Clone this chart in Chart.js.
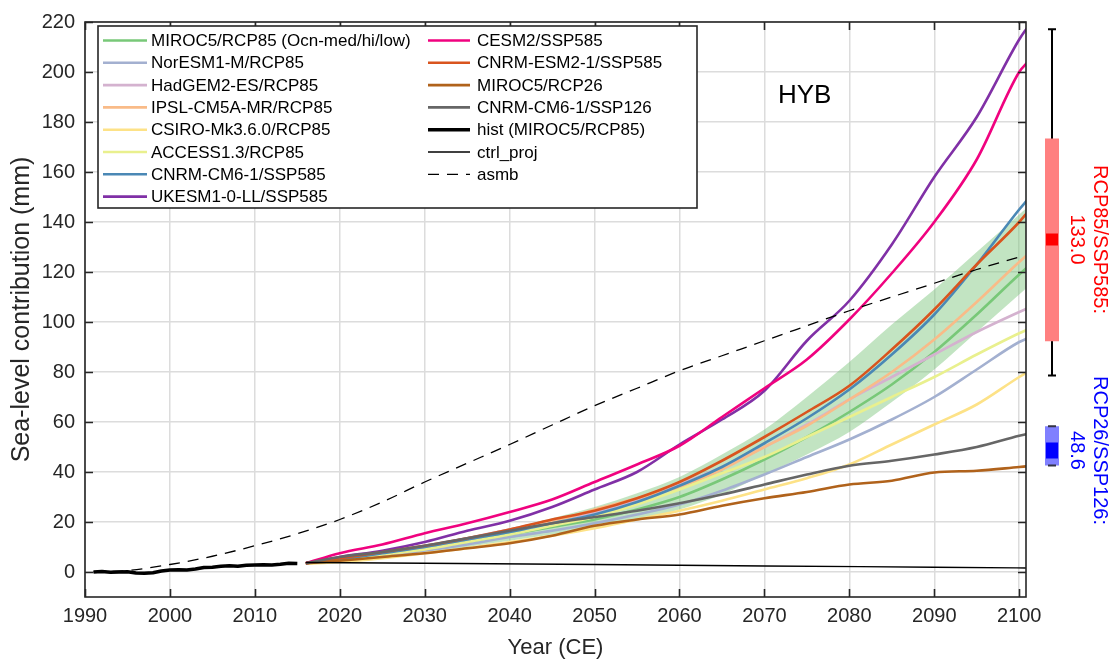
<!DOCTYPE html>
<html>
<head>
<meta charset="utf-8">
<script src="https://cdn.jsdelivr.net/npm/chart.js@4.4.1/dist/chart.umd.min.js"></script>
<style>
  html, body { margin: 0; padding: 0; background: #ffffff; }
  #wrap { width: 1119px; height: 664px; }
</style>
</head>
<body>
<div id="wrap"><canvas id="c" width="1119" height="664"></canvas></div>
<script>
// ---- axis ticks ----
const xTickValues = [1990, 2000, 2010, 2020, 2030, 2040, 2050, 2060, 2070, 2080, 2090, 2100];
const yTickValues = [0, 20, 40, 60, 80, 100, 120, 140, 160, 180, 200, 220];

// ---- historical period (MIROC5/RCP85), mm ----
const histYears = [1991, 1992, 1993, 1994, 1995, 1996, 1997, 1998, 1999, 2000, 2001, 2002, 2003,
                   2004, 2005, 2006, 2007, 2008, 2009, 2010, 2011, 2012, 2013, 2014, 2015];
const histValues = [0.0, 0.2, -0.1, 0.0, 0.1, -0.4, -0.5, -0.3, 0.4, 0.8, 0.9, 0.8, 1.2,
                    1.8, 1.9, 2.3, 2.5, 2.3, 2.7, 2.8, 2.9, 2.8, 3.1, 3.5, 3.4];

// ---- projections, mm ----
const projYears = [2016, 2020, 2025, 2030, 2035, 2040, 2045, 2050, 2055, 2060,
                   2065, 2070, 2075, 2080, 2085, 2090, 2095, 2100, 2101];
const miroc5Rcp85   = [3.5, 5.0, 7.0, 9.0, 12.0, 15.0, 18.0, 21.0, 25.0, 30.0, 37.0, 45.0, 54.0, 64.0, 75.0, 88.0, 103.0, 119.0, 122.0];
const miroc5Rcp85Hi = [3.6, 5.5, 8.0, 10.5, 14.0, 17.5, 21.5, 26.0, 31.5, 38.0, 47.0, 57.0, 70.0, 84.0, 99.0, 113.0, 128.0, 143.0, 146.0];
const miroc5Rcp85Lo = [3.4, 4.5, 6.0, 7.5, 10.0, 12.5, 15.0, 17.5, 21.0, 25.0, 31.0, 39.0, 47.0, 56.0, 68.0, 81.0, 96.0, 111.0, 114.0];
const norEsm1m      = [3.5, 5.0, 6.5, 8.5, 11.0, 14.0, 16.5, 19.5, 23.0, 27.0, 32.5, 39.0, 46.0, 53.0, 61.0, 70.0, 81.0, 92.0, 93.5];
const hadGem2es     = [3.5, 5.5, 7.5, 10.0, 13.5, 17.0, 20.5, 24.0, 29.0, 35.0, 42.0, 50.0, 59.0, 69.0, 78.0, 87.0, 96.0, 104.0, 105.5];
const ipslCm5aMr    = [3.6, 5.5, 7.5, 10.0, 13.0, 16.5, 20.0, 25.0, 29.5, 34.0, 41.0, 50.0, 58.5, 69.0, 80.0, 93.0, 108.0, 124.0, 127.0];
const csiroMk36     = [3.3, 4.0, 5.5, 7.5, 9.5, 12.0, 14.5, 17.5, 21.0, 24.5, 28.5, 33.0, 37.5, 43.0, 51.0, 59.0, 67.0, 78.0, 80.0];
const access13      = [3.5, 5.0, 7.0, 9.0, 12.0, 15.0, 18.5, 22.0, 27.0, 33.0, 39.5, 46.0, 54.0, 62.0, 70.0, 78.0, 87.0, 95.5, 97.0];
const cnrmCm61Ssp585 = [3.5, 5.0, 7.5, 10.0, 13.0, 16.0, 19.5, 23.0, 28.0, 34.5, 42.0, 51.5, 61.5, 73.0, 87.0, 103.0, 123.0, 145.0, 149.0];
const ukesm1Ssp585  = [3.5, 6.0, 8.5, 12.0, 16.5, 20.5, 26.0, 33.0, 40.0, 51.0, 61.0, 72.5, 92.5, 108.5, 131.0, 158.0, 182.0, 213.0, 218.0];
const cesm2Ssp585   = [3.5, 7.5, 11.0, 15.5, 19.5, 24.0, 29.0, 36.0, 43.0, 50.5, 62.0, 73.5, 85.0, 101.0, 119.5, 140.0, 165.0, 200.0, 204.0];
const cnrmEsm21Ssp585 = [3.5, 5.5, 8.0, 10.5, 13.5, 17.0, 21.0, 24.5, 29.5, 36.0, 44.5, 54.0, 64.0, 74.5, 89.0, 105.0, 123.0, 140.0, 144.0];
const miroc5Rcp26   = [3.5, 4.5, 6.0, 7.5, 9.5, 11.5, 14.5, 18.5, 21.0, 23.0, 26.5, 29.5, 32.0, 35.0, 36.5, 39.8, 40.5, 42.0, 42.3];
const cnrmCm61Ssp126 = [3.5, 6.0, 8.0, 10.5, 13.5, 16.5, 19.5, 22.0, 24.5, 27.5, 31.0, 35.0, 39.0, 42.5, 44.5, 47.0, 50.0, 54.5, 55.3];

// ---- control run and surface mass balance ----
const ctrlYears = [2016, 2030, 2050, 2070, 2090, 2101];
const ctrlValues = [3.8, 3.5, 3.0, 2.4, 1.9, 1.6];
const asmbYears = [1991, 1995, 2000, 2005, 2010, 2015, 2020, 2025, 2030, 2035, 2040, 2045, 2050,
                   2055, 2060, 2065, 2070, 2075, 2080, 2085, 2090, 2095, 2100];
const asmbValues = [0.0, 0.6, 3.0, 6.3, 10.5, 15.3, 21.0, 28.0, 36.0, 43.5, 51.0, 58.8, 66.5,
                    73.5, 80.5, 86.5, 92.5, 98.5, 104.5, 110.0, 115.5, 121.0, 126.0];

// ---- 2100 ensemble spread (box: whisker low, q1, median, q3, whisker high) ----
const boxNames = ['RCP85/SSP585:', 'RCP26/SSP126:'];
const boxWhiskerLow = [78.6, 42.6];
const boxQ1 = [92.3, 42.6];
const boxMedian = [133.0, 48.6];
const boxQ3 = [173.4, 58.3];
const boxWhiskerHigh = [217.1, 58.3];

const FONT = "'Liberation Sans', Arial, Helvetica, sans-serif";
const AXIS_INK = '#262626';

function pts(xs, ys) { return xs.map((x, i) => ({ x: x, y: ys[i] })); }

function line(label, xs, ys, color, width, extra) {
  return Object.assign({
    label: label,
    data: pts(xs, ys),
    borderColor: color,
    backgroundColor: color,
    borderWidth: width,
    pointRadius: 0,
    cubicInterpolationMode: 'monotone',
    fill: false
  }, extra || {});
}

// index 0 is drawn on top
const datasets = [
  line('asmb', asmbYears, asmbValues, '#000000', 1.3, { borderDash: [11, 8] }),
  line('ctrl_proj', ctrlYears, ctrlValues, '#000000', 1.3),
  line('hist (MIROC5/RCP85)', histYears, histValues, '#000000', 3.5, { cubicInterpolationMode: 'default', tension: 0 }),
  line('CNRM-CM6-1/SSP126', projYears, cnrmCm61Ssp126, '#666666', 2.6),
  line('MIROC5/RCP26', projYears, miroc5Rcp26, '#b0621b', 2.6),
  line('CNRM-ESM2-1/SSP585', projYears, cnrmEsm21Ssp585, '#d9541e', 2.6),
  line('CESM2/SSP585', projYears, cesm2Ssp585, '#f0027f', 2.6),
  line('UKESM1-0-LL/SSP585', projYears, ukesm1Ssp585, '#8030a6', 2.6),
  line('CNRM-CM6-1/SSP585', projYears, cnrmCm61Ssp585, '#4a88b5', 2.6),
  line('ACCESS1.3/RCP85', projYears, access13, '#e9f08e', 2.6),
  line('CSIRO-Mk3.6.0/RCP85', projYears, csiroMk36, '#fde287', 2.6),
  line('IPSL-CM5A-MR/RCP85', projYears, ipslCm5aMr, '#f9bb88', 2.6),
  line('HadGEM2-ES/RCP85', projYears, hadGem2es, '#d4b2cf', 2.6),
  line('NorESM1-M/RCP85', projYears, norEsm1m, '#a3b0d0', 2.6),
  line('MIROC5/RCP85 (Ocn-med/hi/low)', projYears, miroc5Rcp85, '#78c878', 2.6),
  line('MIROC5/RCP85 low', projYears, miroc5Rcp85Lo, 'rgba(0,0,0,0)', 0,
       { fill: { target: 16 }, backgroundColor: 'rgba(120,196,120,0.45)' }),
  line('MIROC5/RCP85 hi', projYears, miroc5Rcp85Hi, 'rgba(0,0,0,0)', 0)
];

const legendColumns = [
  ['MIROC5/RCP85 (Ocn-med/hi/low)', 'NorESM1-M/RCP85', 'HadGEM2-ES/RCP85', 'IPSL-CM5A-MR/RCP85',
   'CSIRO-Mk3.6.0/RCP85', 'ACCESS1.3/RCP85', 'CNRM-CM6-1/SSP585', 'UKESM1-0-LL/SSP585'],
  ['CESM2/SSP585', 'CNRM-ESM2-1/SSP585', 'MIROC5/RCP26', 'CNRM-CM6-1/SSP126',
   'hist (MIROC5/RCP85)', 'ctrl_proj', 'asmb']
];

// frame, inward ticks, legend, panel tag and 2100 spread boxes
const decorations = {
  id: 'decorations',
  afterDraw(chart) {
    const ctx = chart.ctx;
    const a = chart.chartArea;
    const xs = chart.scales.x, ys = chart.scales.y;
    ctx.save();

    // axes box
    ctx.strokeStyle = AXIS_INK;
    ctx.lineWidth = 1.6;
    ctx.strokeRect(a.left, a.top, a.right - a.left, a.bottom - a.top);

    // inward tick marks
    const tl = 8;
    ctx.lineWidth = 1.6;
    ctx.beginPath();
    xs.ticks.forEach(t => {
      const px = Math.round(xs.getPixelForValue(t.value)) + 0.5;
      ctx.moveTo(px, a.bottom); ctx.lineTo(px, a.bottom - tl);
      ctx.moveTo(px, a.top); ctx.lineTo(px, a.top + tl);
    });
    ys.ticks.forEach(t => {
      const py = Math.round(ys.getPixelForValue(t.value)) + 0.5;
      ctx.moveTo(a.left, py); ctx.lineTo(a.left + tl, py);
      ctx.moveTo(a.right, py); ctx.lineTo(a.right - tl, py);
    });
    ctx.stroke();

    // legend
    const lg = { left: 98, top: 26, right: 697, bottom: 208 };
    ctx.fillStyle = '#ffffff';
    ctx.fillRect(lg.left, lg.top, lg.right - lg.left, lg.bottom - lg.top);
    ctx.strokeStyle = AXIS_INK;
    ctx.lineWidth = 1.6;
    ctx.strokeRect(lg.left, lg.top, lg.right - lg.left, lg.bottom - lg.top);
    const colX = [{ s: 103, e: 147, t: 151 }, { s: 428, e: 470, t: 477 }];
    const rowY0 = 40.5, rowStep = 22.3;
    ctx.font = '17px ' + FONT;
    ctx.textBaseline = 'middle';
    ctx.textAlign = 'left';
    legendColumns.forEach((col, ci) => {
      col.forEach((name, ri) => {
        const ds = chart.data.datasets.find(d => d.label === name);
        const y = rowY0 + ri * rowStep;
        ctx.save();
        ctx.strokeStyle = ds.borderColor;
        ctx.lineWidth = ds.borderWidth;
        ctx.setLineDash(ds.borderDash || []);
        ctx.beginPath();
        ctx.moveTo(colX[ci].s, y); ctx.lineTo(colX[ci].e, y);
        ctx.stroke();
        ctx.restore();
        ctx.fillStyle = '#000000';
        ctx.fillText(name, colX[ci].t, y + 1);
      });
    });

    // panel tag
    ctx.font = '26px ' + FONT;
    ctx.fillStyle = '#000000';
    ctx.textAlign = 'left';
    ctx.fillText('HYB', 778, 96);

    // 2100 spread boxes
    const bx = 1052, bw = 14, capW = 8;
    const boxFill = ['#ff8080', '#8080ff'];
    const medFill = ['#ff0000', '#0000ff'];
    const medH = [12, 16];
    const textCol = ['#ff0000', '#0000ff'];
    boxNames.forEach((name, i) => {
      const yLo = ys.getPixelForValue(boxWhiskerLow[i]);
      const yHi = ys.getPixelForValue(boxWhiskerHigh[i]);
      const yQ1 = ys.getPixelForValue(boxQ1[i]);
      const yQ3 = ys.getPixelForValue(boxQ3[i]);
      const yMed = ys.getPixelForValue(boxMedian[i]);
      // whisker stem
      ctx.strokeStyle = '#000000';
      ctx.lineWidth = 2;
      ctx.beginPath();
      ctx.moveTo(bx, yHi); ctx.lineTo(bx, yLo);
      ctx.stroke();
      // interquartile box and median marker
      ctx.fillStyle = boxFill[i];
      ctx.fillRect(bx - bw / 2, yQ3, bw, yQ1 - yQ3);
      ctx.fillStyle = medFill[i];
      ctx.fillRect(bx - 6, yMed - medH[i] / 2, 12, medH[i]);
      // whisker caps
      ctx.strokeStyle = i === 0 ? '#000000' : '#333344';
      ctx.beginPath();
      ctx.moveTo(bx - capW / 2, yHi); ctx.lineTo(bx + capW / 2, yHi);
      ctx.moveTo(bx - capW / 2, yLo); ctx.lineTo(bx + capW / 2, yLo);
      ctx.stroke();

      ctx.save();
      ctx.translate(0, yMed);
      ctx.rotate(Math.PI / 2);
      ctx.font = '20px ' + FONT;
      ctx.fillStyle = textCol[i];
      ctx.textAlign = 'center';
      ctx.textBaseline = 'middle';
      ctx.fillText(name, 0, -1100);
      ctx.fillText(boxMedian[i].toFixed(1), 0, -1077);
      ctx.restore();
    });

    ctx.restore();
  }
};

Chart.defaults.font.family = FONT;
Chart.defaults.color = AXIS_INK;

new Chart(document.getElementById('c'), {
  type: 'line',
  data: { datasets: datasets },
  options: {
    responsive: false,
    devicePixelRatio: 1,
    animation: false,
    events: [],
    layout: { padding: { left: 0, right: 93, top: 13, bottom: 0 } },
    plugins: {
      legend: { display: false },
      tooltip: { enabled: false },
      filler: { propagate: false }
    },
    elements: { line: { borderCapStyle: 'butt', borderJoinStyle: 'round' } },
    scales: {
      x: {
        type: 'linear',
        min: 1990,
        max: 2100.8,
        afterBuildTicks: s => { s.ticks = xTickValues.map(v => ({ value: v })); },
        afterFit: s => { s.height = 67; },
        grid: { color: '#dcdcdc', lineWidth: 1.5, drawTicks: false },
        border: { display: false },
        ticks: { font: { size: 20 }, color: AXIS_INK, padding: 7, maxRotation: 0,
                 autoSkip: false, callback: v => String(v) },
        title: { display: true, text: 'Year (CE)', font: { size: 22 }, color: AXIS_INK,
                 padding: { top: 0, bottom: 3 } }
      },
      y: {
        type: 'linear',
        min: -10,
        max: 220,
        afterBuildTicks: s => { s.ticks = yTickValues.map(v => ({ value: v })); },
        afterFit: s => { s.width = 85; },
        grid: { color: '#dcdcdc', lineWidth: 1.5, drawTicks: false },
        border: { display: false },
        ticks: { font: { size: 20 }, color: AXIS_INK, padding: 10, autoSkip: false,
                 callback: v => String(v) },
        title: { display: true, text: 'Sea-level contribution (mm)', font: { size: 25 },
                 color: AXIS_INK, padding: { top: 7, bottom: 0 } }
      }
    }
  },
  plugins: [decorations]
});
</script>
</body>
</html>
